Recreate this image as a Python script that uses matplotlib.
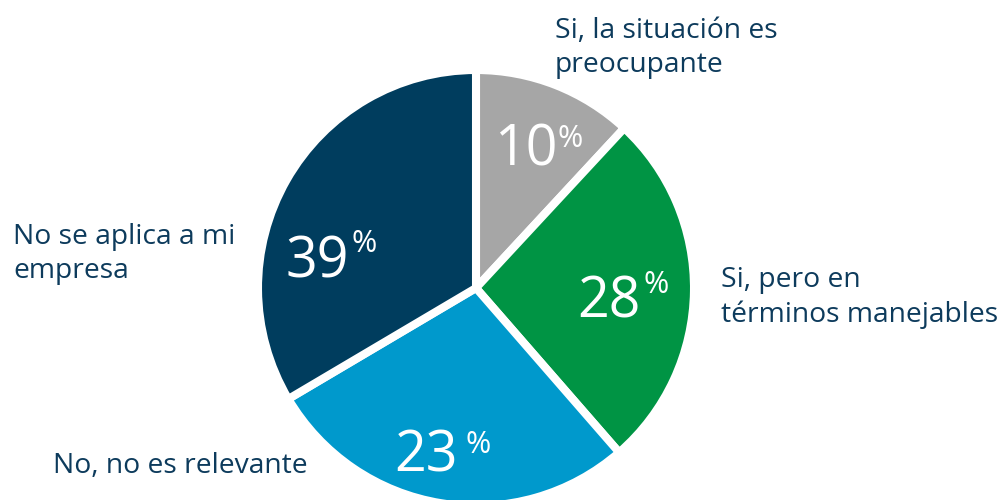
import matplotlib
matplotlib.use("Agg")
import matplotlib.pyplot as plt

# ----------------------------------------------------------
# Data
# ----------------------------------------------------------
categories = ["Si, la situación es\npreocupante",
              "Si, pero en\ntérminos manejables",
              "No, no es relevante",
              "No se aplica a mi\nempresa"]
pct_labels = [10, 28, 23, 39]                 # numbers printed on the slices
slice_share = [11.9, 26.7, 27.9, 33.5]        # size of the slices as drawn
colors = ["#A6A6A6", "#009444", "#0099CC", "#003D5E"]

# ----------------------------------------------------------
# Layout (pixel coords, y from top; x = centre, y = baseline)
# ----------------------------------------------------------
W, H = 1003, 500
center_px = (476, 288)
radius_px = 218
num_pos = [(526, 166), (609, 318), (426, 472), (317, 278)]
pct_pos = [(570, 147), (656, 293), (478, 453), (364, 252)]
cat_pos = [(555, 72), (721, 322), (53, 473), (13, 278)]   # last-line baseline

text_col = "#0D3B5C"
font = "Open Sans"

fig = plt.figure(figsize=(W / 100, H / 100), dpi=100)
ax = fig.add_axes([0, 0, 1, 1])

ax.pie(slice_share, colors=colors, startangle=90, counterclock=False,
       center=(center_px[0], H - center_px[1]), radius=radius_px,
       wedgeprops=dict(edgecolor="white", linewidth=5.8))

for val, (x, y) in zip(pct_labels, num_pos):
    ax.text(x, H - y, str(val), color="white", fontsize=40, family=font,
            ha="center", va="baseline")
for (x, y) in pct_pos:
    ax.text(x, H - y, "%", color="white", fontsize=22, family=font,
            ha="center", va="baseline")

for lab, (x, y) in zip(categories, cat_pos):
    ax.text(x, H - y, lab, color=text_col, fontsize=20.3, family=font,
            ha="left", va="baseline", linespacing=1.29)

ax.set_xlim(0, W)
ax.set_ylim(0, H)
ax.set_aspect("equal")
ax.axis("off")

fig.savefig("out.png", dpi=100)
